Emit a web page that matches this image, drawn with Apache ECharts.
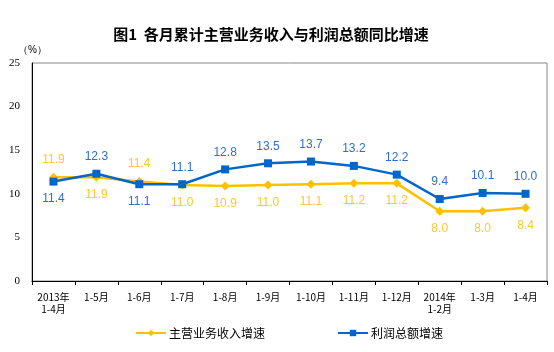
<!DOCTYPE html>
<html><head><meta charset="utf-8">
<script src="https://cdn.jsdelivr.net/npm/echarts@6/dist/echarts.min.js"></script>
<style>html,body{margin:0;padding:0;background:#fff}#c{width:554px;height:352px}</style>
</head><body><div id="c"></div>
<script>
var categories = ['2013年\n1-4月','1-5月','1-6月','1-7月','1-8月','1-9月','1-10月','1-11月','1-12月','2014年\n1-2月','1-3月','1-4月'];
var revenueGrowth = [11.9, 11.9, 11.4, 11.0, 10.9, 11.0, 11.1, 11.2, 11.2, 8.0, 8.0, 8.4];
var profitGrowth = [11.4, 12.3, 11.1, 11.1, 12.8, 13.5, 13.7, 13.2, 12.2, 9.4, 10.1, 10.0];
var revenueLabelPos = ['top','bottom','top','bottom','bottom','bottom','bottom','bottom','bottom','bottom','bottom','bottom'];
var profitLabelPos = ['bottom','top','bottom','top','top','top','top','top','top','top','top','top'];
var seriesNames = ['主营业务收入增速','利润总额增速'];

var chart = echarts.init(document.getElementById('c'), null, {renderer:'canvas'});
function mk(vals, pos){
  return vals.map(function(v,i){
    return {value:v, label:{position:pos[i]}};
  });
}
chart.setOption({
  animation:false,
  title:{text:'图1  各月累计主营业务收入与利润总额同比增速', left:266, textAlign:'center', top:22,
    textStyle:{fontSize:15, fontWeight:'bold', color:'#000', fontFamily:'Noto Sans CJK SC'}},
  grid:{left:32, right:7, top:63, bottom:71, show:true, borderColor:'#888', borderWidth:1},
  legend:{bottom:8, left:130, itemGap:72, itemWidth:30, itemHeight:8,
    textStyle:{fontSize:12, color:'#000', fontFamily:'Noto Sans CJK SC', padding:[0,0,0,-2]},
    data:seriesNames},
  xAxis:{type:'category', data:categories, boundaryGap:true,
    axisLine:{lineStyle:{color:'#000', width:1}},
    axisTick:{show:true, inside:false, length:4, lineStyle:{color:'#000'}},
    axisLabel:{fontSize:10, color:'#000', fontFamily:'Noto Sans CJK SC', margin:10, interval:0, lineHeight:12}},
  yAxis:{type:'value', min:0, max:25, interval:5, name:'（%）', nameGap:8,
    nameTextStyle:{fontSize:10, color:'#000', align:'left', padding:[0,0,0,-14]},
    axisLine:{show:true, lineStyle:{color:'#000', width:1}},
    axisTick:{show:false},
    splitLine:{show:false},
    axisLabel:{fontSize:11, color:'#000', fontFamily:'Liberation Serif', margin:12}},
  series:[
    {name:seriesNames[0], type:'line', data:mk(revenueGrowth, revenueLabelPos), symbol:'diamond', symbolSize:9,
      itemStyle:{color:'#FFC000'}, lineStyle:{color:'#FFC000', width:2.5},
      label:{show:true, formatter:function(p){return p.value.toFixed(1);}, fontSize:12, color:'#FFC633', fontFamily:'Liberation Sans', distance:7}, z:2},
    {name:seriesNames[1], type:'line', data:mk(profitGrowth, profitLabelPos), symbol:'rect', symbolSize:8,
      itemStyle:{color:'#0066CC'}, lineStyle:{color:'#0066CC', width:2.5},
      label:{show:true, formatter:function(p){return p.value.toFixed(1);}, fontSize:12, color:'#2F6FCC', fontFamily:'Liberation Sans', distance:7}, z:3}
  ]
});
</script></body></html>
